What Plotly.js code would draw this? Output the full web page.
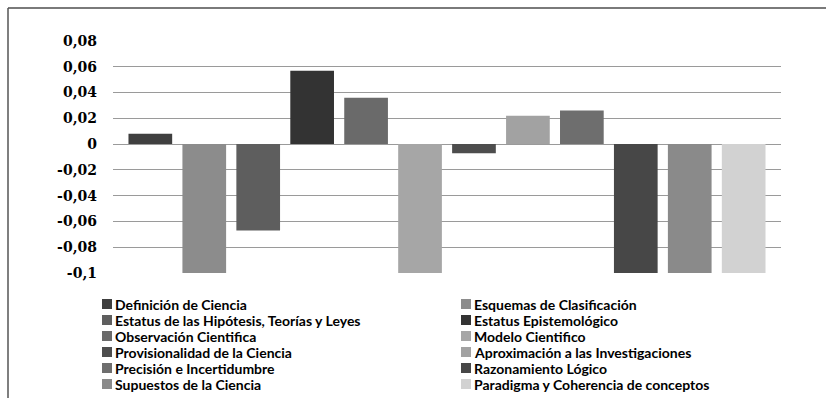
<!DOCTYPE html>
<html>
<head>
<meta charset="utf-8">
<script src="https://cdn.plot.ly/plotly-3.0.1.min.js"></script>
<style>
html,body{margin:0;padding:0;background:#fff;}
#chart{width:826px;height:403px;}
</style>
</head>
<body>
<div id="chart"></div>
<script>
const categories = ['Dimensión'];
const seriesNames = [
  'Definición de Ciencia',
  'Esquemas de Clasificación',
  'Estatus de las Hipótesis, Teorías y Leyes',
  'Estatus Epistemológico',
  'Observación Cientifica',
  'Modelo Cientifico',
  'Provisionalidad de la Ciencia',
  'Aproximación a las Investigaciones',
  'Precisión e Incertidumbre',
  'Razonamiento Lógico',
  'Supuestos de la Ciencia',
  'Paradigma y Coherencia de conceptos'
];
const seriesValues = [0.008, -0.1, -0.067, 0.057, 0.036, -0.1, -0.007, 0.022, 0.026, -0.1, -0.1, -0.1];
const seriesColors = ['#3f3f3f','#8c8c8c','#5e5e5e','#333333','#6a6a6a','#a6a6a6','#4d4d4d','#a2a2a2','#6e6e6e','#474747','#8a8a8a','#d2d2d2'];
const tickVals = [0.08, 0.06, 0.04, 0.02, 0, -0.02, -0.04, -0.06, -0.08, -0.1];
const tickText = ['0,08','0,06','0,04','0,02','0','-0,02','-0,04','-0,06','-0,08','-0,1'];

const traces = seriesNames.map((name, i) => ({
  type: 'bar',
  name: name,
  x: categories,
  y: [seriesValues[i]],
  marker: {color: seriesColors[i], line: {width: 0}},
  hoverinfo: 'name+y'
}));

const W = 826, H = 403;
const m = {l: 113, r: 45, t: 41, b: 130};
const pw = W - m.l - m.r, ph = H - m.t - m.b;
const px = v => (v - m.l) / pw;
const py = v => (H - m.b - v) / ph;

// legend laid out in two columns, reading order row by row
const shapes = [
  {type: 'line', xref: 'paper', yref: 'paper',
   x0: px(8), x1: px(840), y0: py(8), y1: py(8),
   line: {color: '#7a7a7a', width: 2}},
  {type: 'line', xref: 'paper', yref: 'paper',
   x0: px(8), x1: px(8), y0: py(8), y1: py(398),
   line: {color: '#555555', width: 1.5}}
];
const annotations = [];
seriesNames.forEach((name, i) => {
  const col = i % 2, row = Math.floor(i / 2);
  const sx = col === 0 ? 102 : 461;
  const cy = 304 + row * 16;
  shapes.push({type: 'rect', xref: 'paper', yref: 'paper',
    x0: px(sx), x1: px(sx + 10), y0: py(cy - 5), y1: py(cy + 5),
    fillcolor: seriesColors[i], line: {width: 0}});
  annotations.push({xref: 'paper', yref: 'paper', x: px(sx + 12), y: py(cy),
    xanchor: 'left', yanchor: 'middle', showarrow: false, text: name,
    borderpad: 0,
    font: {family: 'Lato, sans-serif', size: 14, color: '#000', weight: 'bold'}});
});

const layout = {
  width: W, height: H,
  margin: m,
  paper_bgcolor: '#ffffff',
  plot_bgcolor: '#ffffff',
  barmode: 'group',
  bargap: 0.031,
  bargroupgap: 0.19,
  separators: ', ',
  showlegend: false,
  xaxis: {
    showticklabels: false,
    showgrid: false,
    zeroline: false,
    showline: false,
    ticks: ''
  },
  yaxis: {
    range: [-0.1, 0.08],
    tickvals: tickVals,
    ticktext: tickText,
    tickfont: {family: '"DejaVu Serif", serif', size: 14, color: '#000', weight: 'bold'},
    showgrid: true,
    gridcolor: '#9a9a9a',
    gridwidth: 1,
    zeroline: true,
    zerolinecolor: '#9a9a9a',
    zerolinewidth: 1,
    showline: false,
    ticks: '',
    ticklabelstandoff: 15
  },
  shapes: shapes,
  annotations: annotations
};

Plotly.newPlot('chart', traces, layout, {displayModeBar: false, staticPlot: true});
</script>
</body>
</html>
